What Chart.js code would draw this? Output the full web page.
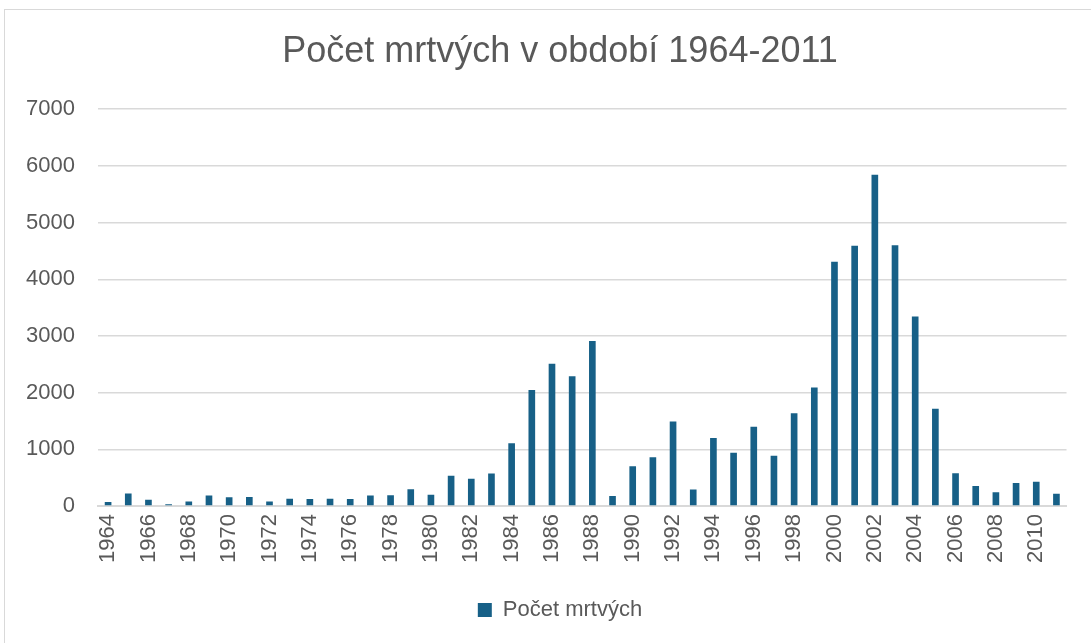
<!DOCTYPE html>
<html>
<head>
<meta charset="utf-8">
<script src="https://cdn.jsdelivr.net/npm/chart.js@4"></script>
<style>
  body { margin: 0; background: #fff; }
  #frame { position: absolute; left: 4px; top: 9px; width: 1100px; height: 700px; border: 1px solid #d9d9d9; }
  #wrap { position: absolute; left: 0; top: 0; width: 1091px; height: 643px; }
</style>
</head>
<body>
<div id="frame"></div>
<div id="wrap"><canvas id="chart"></canvas></div>
<script>
// years 1964 - 2011
const years = [];
for (let y = 1964; y <= 2011; y++) years.push(String(y));

// deaths per year
const deaths = [
    70, 220, 110, 30, 80, 185, 155, 160, 80, 130,
    125, 130, 125, 185, 190, 295, 200, 535, 480, 575,
    1105, 2045, 2510, 2290, 2910, 175, 700, 860, 1490, 290,
    1200, 940, 1400, 885, 1635, 2090, 4310, 4590, 5845, 4600,
    3345, 1715, 577, 354, 241, 407, 430, 218
];

const seriesName = 'Počet mrtvých';
const titleText = 'Počet mrtvých v období 1964-2011';
const yTicks = [0, 1000, 2000, 3000, 4000, 5000, 6000, 7000];

const textColor = '#595959';
const gridColor = '#d9d9d9';
const barColor = '#176087';
const fontFamily = '"Liberation Sans", Arial, sans-serif';

const ctx = document.getElementById('chart');

new Chart(ctx, {
    type: 'bar',
    data: {
        labels: years,
        datasets: [{
            label: seriesName,
            data: deaths,
            backgroundColor: barColor,
            barPercentage: 0.33,
            categoryPercentage: 1
        }]
    },
    options: {
        responsive: true,
        maintainAspectRatio: false,
        animation: false,
        layout: {
            padding: { left: 45, right: 16, top: 10, bottom: 12 }
        },
        plugins: {
            title: {
                display: true,
                text: titleText,
                color: textColor,
                font: { family: fontFamily, size: 36, weight: 'normal' },
                padding: { top: 20, bottom: 36 }
            },
            legend: {
                position: 'bottom',
                labels: {
                    color: textColor,
                    font: { family: fontFamily, size: 22 },
                    boxWidth: 14,
                    boxHeight: 14,
                    padding: 12
                }
            },
            tooltip: { enabled: false }
        },
        scales: {
            x: {
                grid: { display: false, drawTicks: false },
                border: { display: true, color: gridColor, width: 2 },
                ticks: {
                    color: textColor,
                    font: { family: fontFamily, size: 22 },
                    minRotation: 90,
                    maxRotation: 90,
                    padding: 8,
                    autoSkip: false,
                    callback: function (value, index) {
                        return index % 2 === 0 ? years[index] : '';
                    }
                },
                afterFit: function (scale) { scale.height = 81; }
            },
            y: {
                min: 0,
                max: 7000,
                afterBuildTicks: function (scale) {
                    scale.ticks = yTicks.map(v => ({ value: v }));
                },
                grid: { color: gridColor, lineWidth: 1.5, drawTicks: false },
                border: { display: false },
                ticks: {
                    color: textColor,
                    font: { family: fontFamily, size: 22 },
                    padding: 23,
                    callback: function (value) { return String(value); }
                },
                afterFit: function (scale) {
                    scale.width = 53;
                    // labels stick out left of the narrow axis box, don't clip them
                    scale._computeLabelArea = function () { return undefined; };
                }
            }
        }
    }
});
</script>
</body>
</html>
